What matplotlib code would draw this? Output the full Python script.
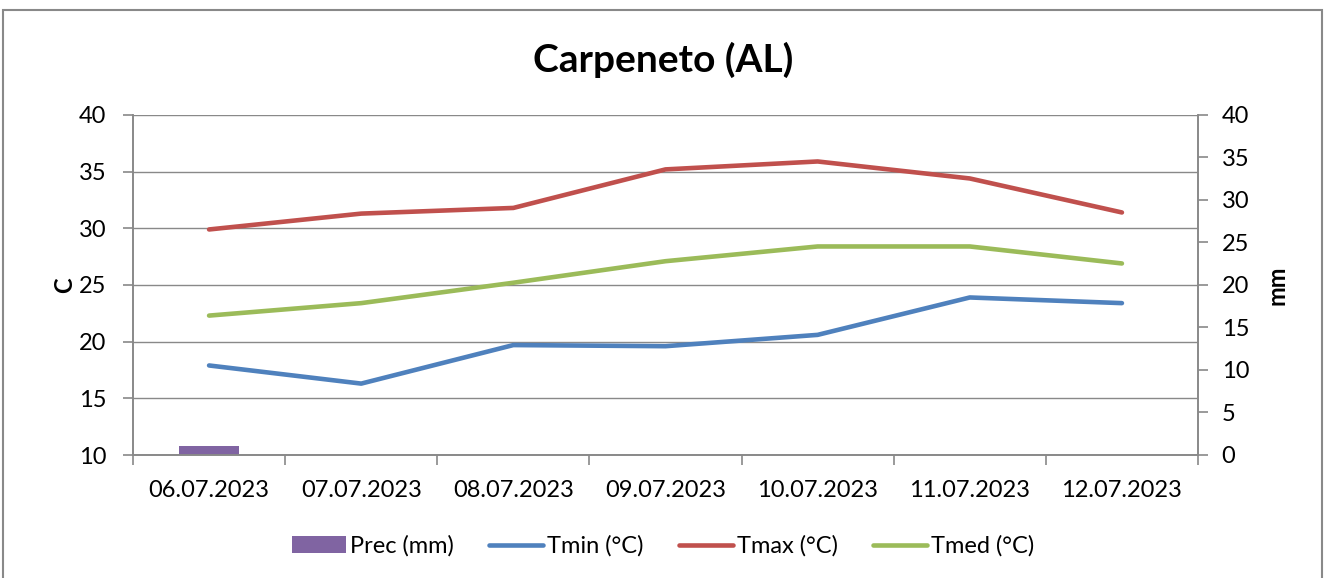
import matplotlib.pyplot as plt
from matplotlib.patches import Rectangle

plt.rcParams['font.family'] = ['Lato', 'DejaVu Sans']

dates = ['06.07.2023', '07.07.2023', '08.07.2023', '09.07.2023',
         '10.07.2023', '11.07.2023', '12.07.2023']
prec = [1.0, 0, 0, 0, 0, 0, 0]
tmin = [17.9, 16.3, 19.7, 19.6, 20.6, 23.9, 23.4]
tmax = [29.9, 31.3, 31.8, 35.2, 35.9, 34.4, 31.4]
tmed = [22.3, 23.4, 25.2, 27.1, 28.4, 28.4, 26.9]

grey = '#898989'

fig = plt.figure(figsize=(13.26, 5.78), dpi=100)
fig.patches.append(Rectangle((3 / 1326, -0.1), 1319 / 1326, 1.1 - 10 / 578,
                             transform=fig.transFigure, fill=False,
                             edgecolor=grey, linewidth=1.5))

ax = fig.add_axes([133 / 1326, 123 / 578, 1065 / 1326, 340 / 578])
ax2 = ax.twinx()

x = list(range(len(dates)))
bars = ax2.bar(x, prec, width=0.4, color='#8064A2', label='Prec (mm)')
l1, = ax.plot(x, tmin, color='#4F81BD', lw=3.3, solid_capstyle='round', label='Tmin (°C)')
l2, = ax.plot(x, tmax, color='#C0504D', lw=3.3, solid_capstyle='round', label='Tmax (°C)')
l3, = ax.plot(x, tmed, color='#9BBB59', lw=3.3, solid_capstyle='round', label='Tmed (°C)')

ax.set_zorder(ax2.get_zorder() + 1)
ax.patch.set_visible(False)

ax.set_xlim(-0.5, 6.5)
ax.set_ylim(10, 40)
ax2.set_ylim(0, 40)
ax.set_yticks(range(10, 41, 5))
ax2.set_yticks(range(0, 41, 5))
ax.grid(axis='y', color=grey, lw=1)
ax.set_axisbelow(True)

ax.set_xticks([i - 0.5 for i in range(8)])
ax.set_xticklabels([])
ax.set_xticks(x, minor=True)
ax.set_xticklabels(dates, minor=True)
ax.tick_params(axis='x', which='minor', length=0, pad=18, labelsize=17)
ax.tick_params(axis='x', which='major', length=7, color=grey, width=1.2)
ax.tick_params(axis='y', length=7, color=grey, width=1.2, labelsize=17, pad=12)
ax2.tick_params(axis='y', length=7, color=grey, width=1.2, labelsize=17, pad=10)

for a in (ax, ax2):
    a.spines['top'].set_visible(False)
    for s in ('left', 'right', 'bottom'):
        a.spines[s].set_color(grey)
        a.spines[s].set_linewidth(1.2)

ax.set_ylabel('C', fontsize=17, fontweight='bold', labelpad=2)
ax2.set_ylabel('mm', fontsize=17, fontweight='bold', labelpad=12)

fig.suptitle('Carpeneto (AL)', fontsize=28, fontweight='bold', y=0.928)

fig.legend(handles=[bars, l1, l2, l3], loc='center', bbox_to_anchor=(0.5, 0.055),
           ncol=4, frameon=False, fontsize=17, handlelength=2.3, handletextpad=0.15,
           columnspacing=1.5)

fig.savefig('out.png', dpi=100)
